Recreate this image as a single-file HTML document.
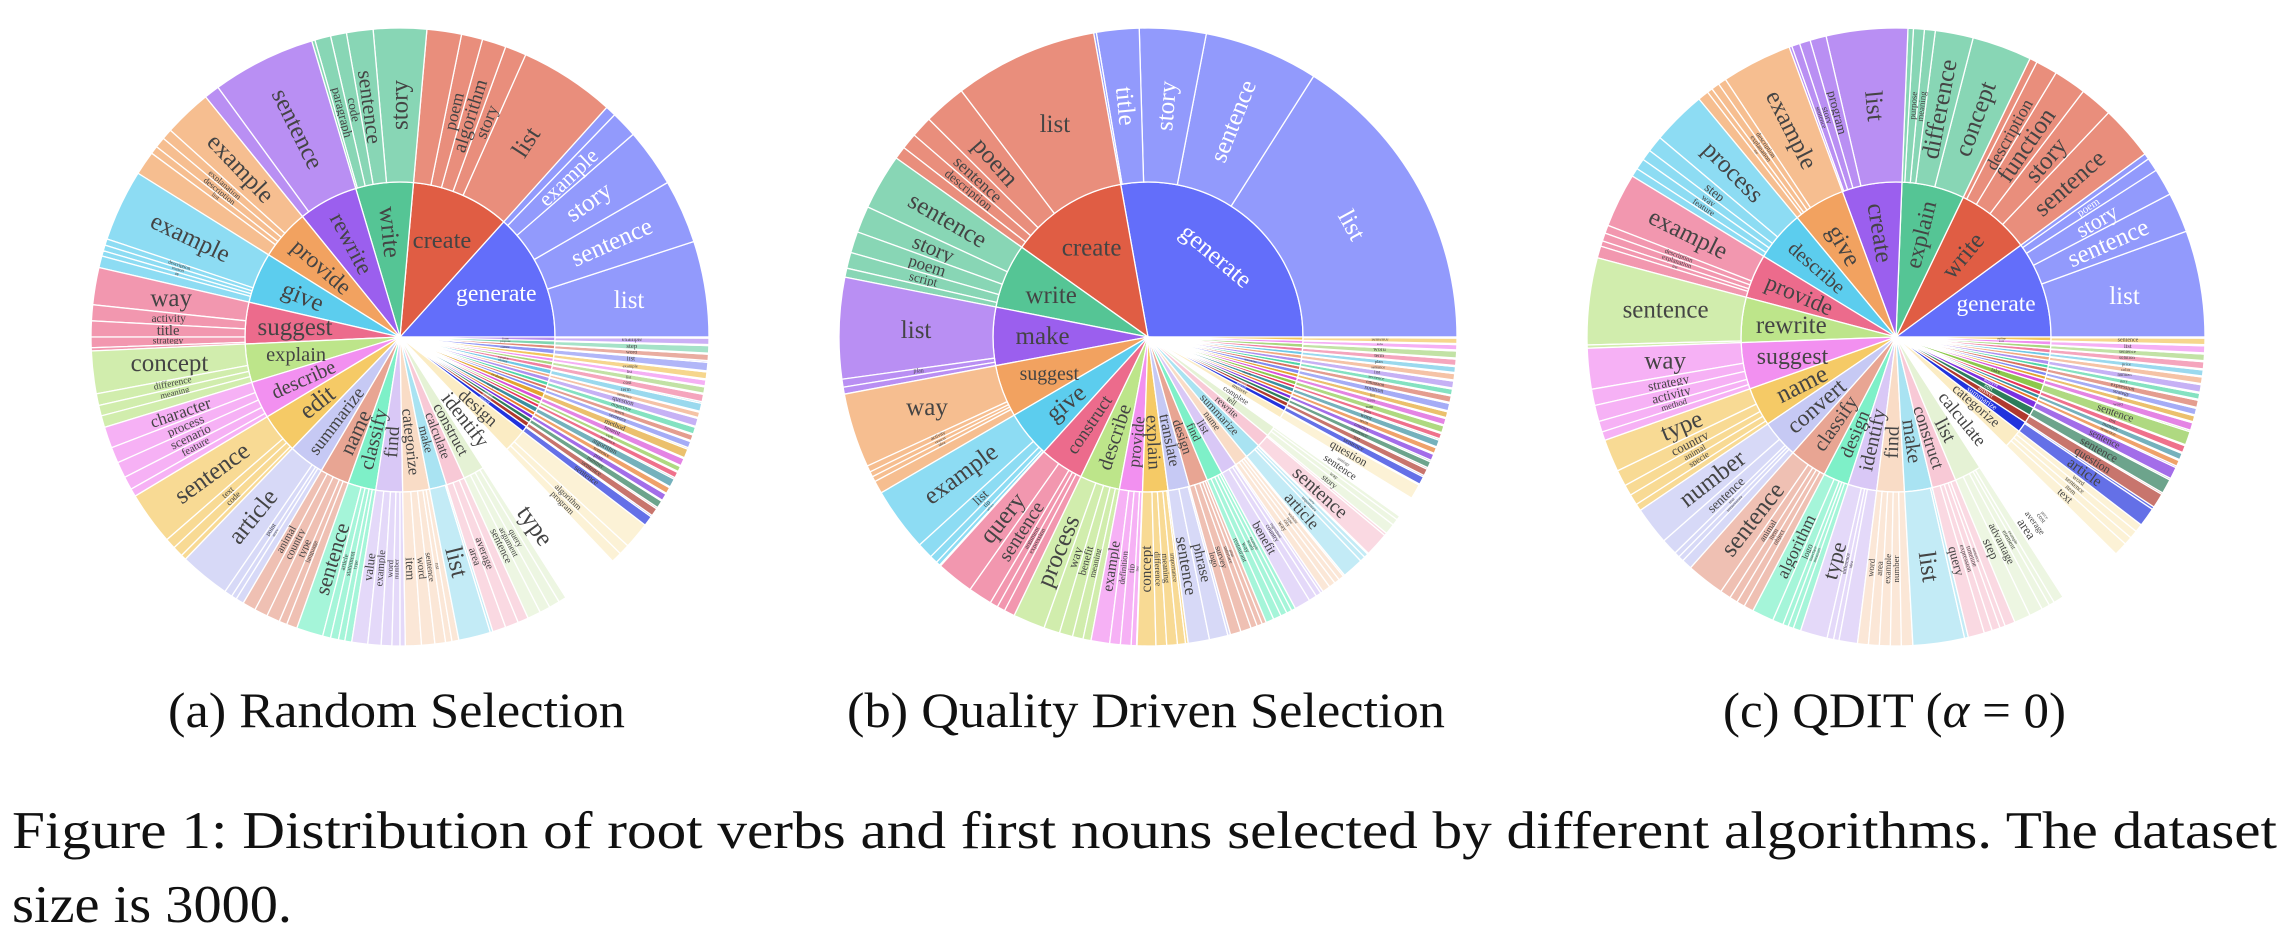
<!DOCTYPE html>
<html>
<head>
<meta charset="utf-8">
<style>
  html, body { margin: 0; padding: 0; background: #ffffff; }
  body { width: 2290px; height: 942px; overflow: hidden; }
  svg { display: block; }
  .cap { font-family: "Liberation Serif", serif; fill: #111; }
</style>
</head>
<body>
<svg id="fig" width="2290" height="942" viewBox="0 0 2290 942" xmlns="http://www.w3.org/2000/svg">
  <g id="chart-a"></g>
  <g id="chart-b"></g>
  <g id="chart-c"></g>
  <text class="cap" x="168" y="727" font-size="50" textLength="457" lengthAdjust="spacingAndGlyphs">(a) Random Selection</text>
  <text class="cap" x="847" y="727" font-size="50" textLength="598" lengthAdjust="spacingAndGlyphs">(b) Quality Driven Selection</text>
  <text class="cap" x="1723" y="727" font-size="50" textLength="343" lengthAdjust="spacingAndGlyphs">(c) QDIT (<tspan font-style="italic">α</tspan> = 0)</text>
  <text class="cap" x="12" y="848" font-size="53" textLength="2265" lengthAdjust="spacingAndGlyphs">Figure 1: Distribution of root verbs and first nouns selected by different algorithms. The dataset</text>
  <text class="cap" x="12" y="922" font-size="53" textLength="280" lengthAdjust="spacingAndGlyphs">size is 3000.</text>
</svg>
<script>
// ---------- (a) Random Selection ----------
const verbsA = ['generate','create','write','rewrite','provide','give','suggest','explain','describe','edit','summarize','name','classify','find','categorize','make','calculate','construct','identify','design',
  'answer','analyze','convert','develop','translate','compose','take','list','add','evaluate','compare','determine','tell','rank','predict','choose','complete','paraphrase','reverse','sort','outline','search','propose','form'];
const verbValsA = [48,37,21.6,22.4,19,19,15.6,14.4,14,15,13.5,11,10.5,10,10,6.5,7,8,11,9,
  2.2,1.8,1.6,1.5,1.4,1.9,1.3,1.2,1.6,2.0,1.4,1.3,1.5,1.7,1.2,1.8,1.6,1.4,1.3,1.5,1.9,1.4,1.6,1.4];
const nounsA = [['list','sentence','story','example'],['list','story','algorithm','poem'],['story','sentence','code','paragraph'],['sentence'],
  ['example','explanation','description','list'],['example','description','reason','tip'],['way','activity','title','strategy'],['concept','difference','meaning'],
  ['character','process','scenario','feature'],['sentence','text','code'],['article','point','story'],['animal','country','type','language'],
  ['sentence','article','statement','type'],['value','example','word','number'],['item','word','sentence','list'],['list'],['area','average'],
  ['sentence','argument','query'],['type'],['program','algorithm'],
  ['sentence'],['sentence'],['number'],['plan'],['sentence'],['algorithm'],['sentence'],['verb'],['benefit'],['method'],['sentence'],['word'],['objective'],['question'],['sentence'],['term'],['cost'],['list'],['list'],['example'],['list'],['word'],['step'],['example']];
const nounValsA = [[18,12,11,5],[18,4,4.5,4],[10,5,3,3],[19.5],[9,2,2,1.5],[13.5,1.2,1.1,1],[7,3,3,2],[8,2.2,2],[4,3,3,2.5],[10,2,2],[9.5,1.5,1],
  [2.5,2.5,2.5,1.5],[5,1.5,1.5,1.2],[3,2.5,2,1.5],[3,2.5,2,1.2],[6],[2.5,2.5],[2.5,2,2],[6],[2,2],
  [1.9],[1.5],[1.4],[1.3],[1.2],[1.6],[1.1],[1.0],[1.4],[1.7],[1.2],[1.1],[1.3],[1.5],[1.0],[1.5],[1.4],[1.2],[1.1],[1.3],[1.6],[1.2],[1.4],[1.2]];

// ---------- (b) Quality Driven Selection ----------
const verbsB = ['generate','create','write','make','suggest','give','construct','describe','provide','explain','translate','design','find','list','name','summarize','rewrite','tell','complete','answer',
  'analyze','convert','develop','edit','compose','classify','take','add','evaluate','compare','determine','rank','predict','choose','paraphrase','sort','outline','search','propose','form'];
const verbValsB = [100,44.4,24.2,21.8,19.6,17.5,16.5,15,8.6,9.5,8,7,6,6,5,6,5,4,4,3,
  1.8,1.6,1.5,1.4,1.3,1.6,1.2,1.5,1.4,1.3,1.6,1.4,1.3,1.5,1.4,1.3,1.4,1.5,1.2,1.2];
const nounsB = [['list','sentence','story','title'],['list','poem','sentence','description'],['sentence','story','poem','script'],['list','plan'],
  ['way','activity','reason','idea'],['example','list','tip','advice'],['query','sentence','argument','expression'],['process','way','benefit','meaning'],
  ['example','definition','tip','list'],['concept','difference','meaning','importance'],['sentence','phrase'],['logo','survey','interface','plan'],
  ['restaurant','way','word','example'],['benefit','country','ingredient'],['way','city','type','website'],['article','importance','story'],['sentence'],
  ['story','way'],['sentence','analogy'],['question'],
  ['sentence'],['list'],['sentence'],['country'],['term'],['word'],['plan'],['sum'],['word'],['list'],['solution'],['emission'],['sentence'],['list'],['sentence'],['plan'],['term'],['word'],['list'],['sentence']];
const nounValsB = [[57.5,21.5,12.5,8],[27,8,4,3],[10.5,5,4,3],[19,1.5],[14,1.2,1,1],[12,3,1.5,0.8],[7,4.5,1.5,1.5],[6,3,2.5,2],[3.5,2,2,1],[3.5,2,2,1.5],
  [4,3.5],[2,2,1.2,1],[1.5,1.5,1.2,1],[3,1.5,1],[1.5,1.2,1,1],[4,1,0.8],[4.5],[2,1.2],[2.5,1],[2.8],
  [1.5],[1.3],[1.2],[1.2],[1.1],[1.3],[1.0],[1.3],[1.2],[1.1],[1.4],[1.2],[1.1],[1.3],[1.2],[1.1],[1.2],[1.3],[1.0],[1.0]];

// ---------- (c) QDIT ----------
const verbsC = ['generate','write','explain','create','give','describe','provide','rewrite','suggest','name','convert','classify','design','identify','find','make','construct','list','calculate','categorize',
  'summarize','answer','edit','analyze','translate','develop','compose','take','add','evaluate','compare','determine','tell','rank','predict','choose','complete','paraphrase','sort','outline'];
const verbValsC = [35.6,27.4,23,22,19,18.6,16.2,16.6,17.1,14.3,13.9,13.8,9.4,10.6,10.1,10.2,8.9,9.9,12.4,7,
  4,3,3,2.5,1.3,1.4,1.5,2.8,1.6,1.3,1.4,1.5,1.3,1.6,1.4,1.3,1.5,1.4,1.5,1.4];
const nounsC = [['list','sentence','story','poem'],['sentence','story','function','description'],['concept','difference','meaning','purpose'],['list','program','story','sentence'],
  ['example','description','explanation','tip'],['process','step','way','feature'],['example','description','explanation','list'],['sentence'],
  ['way','strategy','activity','method'],['type','country','animal','specie'],['number','sentence','text','temperature'],['sentence','animal','item','object'],
  ['algorithm','logo','interface','program'],['type','difference','idea'],['word','area','example','number'],['list'],['query','expression','timeline','sentence'],
  ['step','advantage','element','example'],['area','average','cost','price'],['text','item','sentence','word'],
  ['article'],['question'],['sentence'],['sentence'],['sentence'],['number'],['list'],['sentence'],['word'],['list'],['strategy'],['expression'],['story'],['number'],['color'],['price'],['solution'],['sentence'],['list'],['sentence']];
const nounValsC = [[19.6,7.4,5,2.5],[10,6,6,4],[11,7,2,2],[15,3,2,1.5],[13,1.5,1.5,1],[10,3,2,2],[10,1.5,1.5,1],[16],[7.5,3,3,2],[6,3,2,2],[7,3,1,1],[7,2,1.5,1.5],
  [4,2,1,1],[5,1.2,1],[2,2,2,2],[9.5],[3,1.5,1.5,1],[3,2.5,1.5,1],[3,2,1.5,1],[2.5,1.5,1.5,1.5],
  [3.5],[2.7],[2.7],[2.2],[1.1],[1.2],[1.3],[2.5],[1.4],[1.1],[1.2],[1.3],[1.1],[1.4],[1.2],[1.1],[1.3],[1.2],[1.3],[1.2]];

// ---------- styling (not data) ----------
const palette = ['#636efa','#e05d44','#55c595','#9b5fee','#f2a260','#5ccdee','#ec6b8c','#bde58a','#f290f0','#f5ca66',
  '#c6c9f4','#e8a593','#7ef0c8','#d9c8f6','#f9dcc6','#a9e3f2','#f8c9d6','#e5f2d5','#ffffff','#fbecc4',
  '#2233dd','#b03a2e','#2e7d5b','#7b2fe0','#e87a2a','#3a8f9f','#e8345a','#8cc84b','#d94fd9','#e3a52e',
  '#7f89f2','#d9735f','#4fd6a6','#ad8ff0','#f0a980','#6fc8e6','#f07fa0','#a8d67e','#f08ef0','#f2c55c',
  '#8f96f5','#e08a78','#7ed6b0','#b48ef0'];
const R_IN = 155, R_OUT = 309, CY = 337;
const NS = 'http://www.w3.org/2000/svg';

function hexRgb(h){ return [parseInt(h.substr(1,2),16),parseInt(h.substr(3,2),16),parseInt(h.substr(5,2),16)]; }
function lighten(h, t){ const c = hexRgb(h).map(v => Math.round(v*(1-t)+255*t)); return '#'+c.map(v=>v.toString(16).padStart(2,'0')).join(''); }
function lum(h){ const c = hexRgb(h); return (0.299*c[0]+0.587*c[1]+0.114*c[2])/255; }

function pt(cx, r, deg){ const a = deg*Math.PI/180; return [cx + r*Math.cos(a), CY - r*Math.sin(a)]; }
function wedgePath(cx, r0, r1, a0, a1){
  const large = (a1 - a0) > 180 ? 1 : 0;
  const p1 = pt(cx, r1, a0), p2 = pt(cx, r1, a1);
  if (r0 <= 0) {
    return `M${cx},${CY} L${p1[0]},${p1[1]} A${r1},${r1} 0 ${large} 0 ${p2[0]},${p2[1]} Z`;
  }
  const q1 = pt(cx, r0, a1), q2 = pt(cx, r0, a0);
  return `M${q2[0]},${q2[1]} L${p1[0]},${p1[1]} A${r1},${r1} 0 ${large} 0 ${p2[0]},${p2[1]} L${q1[0]},${q1[1]} A${r0},${r0} 0 ${large} 1 ${q2[0]},${q2[1]} Z`;
}

function placeLabel(g, cx, label, a0, a1, rin, rout, fill, isInner, forceWhite, name){
  const span = a1 - a0;
  const mid = (a0 + a1)/2;
  const rm = isInner ? 0.68*rout : (rin + rout)/2;
  const depth = isInner ? 0.55*rout : (rout - rin);
  const arc = rm * span * Math.PI/180;
  const k = 0.46, hh = 0.8, n = label.length;
  const fsT = Math.min(arc*0.9/(k*n), depth*0.85/hh);
  const fsR = Math.min(depth*0.88/(k*n), arc*0.85/hh);
  const s = Math.abs(Math.sin(mid*Math.PI/180)), c = Math.abs(Math.cos(mid*Math.PI/180));
  const fsH = 0.92*Math.min(depth/(k*n*c + hh*s), arc/(k*n*s + hh*c));
  let fs = fsH*1.5, rot = 0;
  if (fsR > fs) { fs = fsR; rot = -mid; if (Math.cos(mid*Math.PI/180) < 0) rot += 180; }
  if (fsT > fs) { fs = fsT; rot = 90 - mid; while (rot > 90) rot -= 180; while (rot <= -90) rot += 180; }
  if (rot === 0) fs = Math.min(fs, fsH*1.12);
  fs = Math.min(fs, 25);
  if (fs < 3) return;
  const p = pt(cx, rm, mid);
  const t = document.createElementNS(NS, 'text');
  
  
  t.setAttribute('x', p[0].toFixed(1));
  t.setAttribute('y', p[1].toFixed(1));
  t.setAttribute('font-size', fs.toFixed(1));
  t.setAttribute('font-family', '"Liberation Serif", serif');
  t.setAttribute('text-anchor', 'middle');
  t.setAttribute('dominant-baseline', 'central');
  t.setAttribute('fill', (forceWhite || lum(fill) < 0.45) ? '#ffffff' : '#444444');
  t.setAttribute('transform', `rotate(${rot.toFixed(1)} ${p[0].toFixed(1)} ${p[1].toFixed(1)})`);
  t.textContent = label;
  g.appendChild(t);
}

function drawSunburst(gid, cx, verbs, vals, nouns, nvals){
  const g = document.getElementById(gid);
  const total = vals.reduce((x,y)=>x+y, 0);
  const angle = v => v/total*360;   // value -> degrees axis function
  let a = 0;
  verbs.forEach((verb, i) => {
    const span = angle(vals[i]);
    const col = palette[i % palette.length];
    const light = lighten(col, 0.3);
    const white = (i === 0);
    const w = document.createElementNS(NS, 'path');
    
    
    w.setAttribute('d', wedgePath(cx, 0, R_IN, a, a + span));
    w.setAttribute('fill', col);
    w.setAttribute('stroke', '#ffffff');
    w.setAttribute('stroke-width', '1.3');
    g.appendChild(w);
    let b = a;
    (nouns[i] || []).forEach((noun, j) => {
      const s = angle(nvals[i][j]);
      const o = document.createElementNS(NS, 'path');
      
      
      o.setAttribute('d', wedgePath(cx, R_IN, R_OUT, b, b + s));
      o.setAttribute('fill', light);
      o.setAttribute('stroke', '#ffffff');
      o.setAttribute('stroke-width', '1.3');
      g.appendChild(o);
      placeLabel(g, cx, noun, b, b + s, R_IN, R_OUT, light, false, white, 'noun-label');
      b += s;
    });
    if (a + span - b > 0.05) {
      const r = document.createElementNS(NS, 'path');
      
      
      r.setAttribute('d', wedgePath(cx, R_IN, R_OUT, b, a + span));
      r.setAttribute('fill', light);
      r.setAttribute('stroke', '#ffffff');
      r.setAttribute('stroke-width', '1.3');
      g.appendChild(r);
    }
    a += span;
  });
  a = 0;
  verbs.forEach((verb, i) => {
    const span = angle(vals[i]);
    placeLabel(g, cx, verb, a, a + span, 0, R_IN, palette[i % palette.length], true, i === 0, 'verb-label');
    a += span;
  });
}

drawSunburst('chart-a', 400, verbsA, verbValsA, nounsA, nounValsA);
drawSunburst('chart-b', 1148, verbsB, verbValsB, nounsB, nounValsB);
drawSunburst('chart-c', 1896, verbsC, verbValsC, nounsC, nounValsC);
</script>
</body>
</html>
